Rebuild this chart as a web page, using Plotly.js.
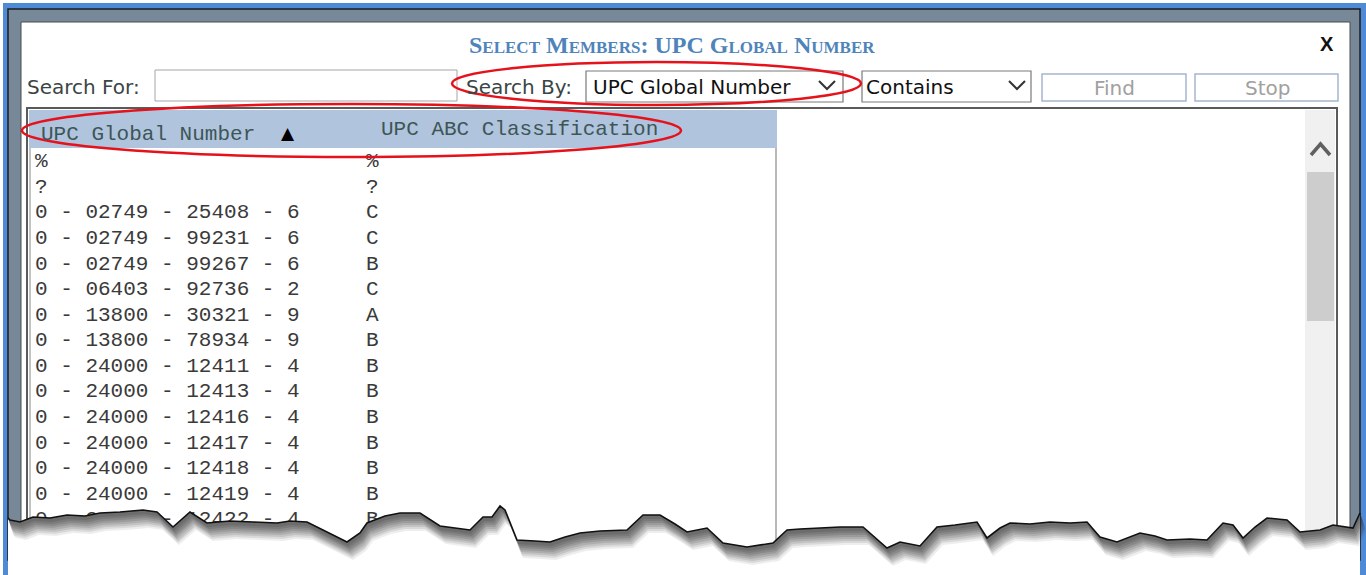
<!DOCTYPE html>
<html>
<head>
<meta charset="utf-8">
<script src="https://cdn.plot.ly/plotly-3.0.1.min.js"></script>
<style>html,body{margin:0;padding:0;background:#fff;overflow:hidden}</style>
</head>
<body>
<div id="chart" style="width:1366px;height:575px"></div>
<script>
// ---- data ----
const dialogTitle = "Select Members: UPC Global Number";
const searchLabels = ["Search For:", "Search By:"];
const searchByValue = "UPC Global Number";
const matchValue = "Contains";
const buttonLabels = ["Find", "Stop"];
const columnTitles = ["UPC Global Number", "UPC ABC Classification"];
const upcNumbers = [
  "%", "?",
  "0 - 02749 - 25408 - 6",
  "0 - 02749 - 99231 - 6",
  "0 - 02749 - 99267 - 6",
  "0 - 06403 - 92736 - 2",
  "0 - 13800 - 30321 - 9",
  "0 - 13800 - 78934 - 9",
  "0 - 24000 - 12411 - 4",
  "0 - 24000 - 12413 - 4",
  "0 - 24000 - 12416 - 4",
  "0 - 24000 - 12417 - 4",
  "0 - 24000 - 12418 - 4",
  "0 - 24000 - 12419 - 4",
  "0 - 24000 - 12422 - 4"
];
const abcClasses = ["%", "?", "C", "C", "B", "C", "A", "B", "B", "B", "B", "B", "B", "B", "B"];

// torn-edge outline (decoration)
const tearX = [8,10,20,33,50,67,85,100,120,143,157,173,190,207,230,253,277,290,307,333,347,360,367,385,400,420,440,455,470,483,492,500,505,517,535,550,565,580,600,627,643,660,675,687,707,723,747,773,787,800,820,840,863,887,900,920,937,955,977,987,1000,1010,1030,1050,1070,1087,1100,1117,1140,1155,1167,1190,1207,1223,1233,1243,1255,1267,1287,1300,1320,1333,1353,1360];
const tearY = [518,520,522,517,518,515,516,513,512,510,512,527,512,523,521,522,523,521,522,535,542,533,523,516,513,513,526,528,530,517,517,506,510,540,541,542,537,533,531,530,515,515,524,532,528,543,547,543,530,529,528,527,527,548,542,546,527,525,522,538,528,523,524,522,523,522,537,542,533,536,540,539,540,523,525,538,527,518,520,532,530,525,528,513];

// ---- helpers ----
function rect(x0, y0, x1, y1, fill, lineColor, lw, layer) {
  return {type: 'rect', xref: 'x', yref: 'y', x0, y0, x1, y1,
    fillcolor: fill, line: {color: lineColor || 'rgba(0,0,0,0)', width: lw || 0}, layer: layer || 'below'};
}
function pathShape(d, fill, lineColor, lw, layer, opacity) {
  return {type: 'path', xref: 'x', yref: 'y', path: d, fillcolor: fill || 'rgba(0,0,0,0)',
    line: {color: lineColor || 'rgba(0,0,0,0)', width: lw || 0}, layer: layer || 'below', opacity: opacity == null ? 1 : opacity};
}
function pts(xs, ys, dx, dy) { return xs.map((x, i) => (x + dx) + ',' + (ys[i] + dy)); }

const shapes = [];
// window frame
shapes.push(rect(3, 3, 1366, 575, '#4f8ad6'));
shapes.push(rect(8, 9, 1360, 560, '#778899', '#1e1e1e', 1.5));
shapes.push(rect(21, 22, 1350, 575, '#ffffff', '#4a4a4a', 1));
// search row controls
shapes.push(rect(155, 70, 457, 101, '#ffffff', '#a5a5a5', 1));
shapes.push(rect(586, 71, 843, 102, '#ffffff', '#7a7a7a', 1.2));
shapes.push(rect(862, 71, 1031, 102, '#ffffff', '#7a7a7a', 1.2));
shapes.push(rect(1042, 74, 1186, 101, '#ffffff', '#a6b6cb', 1.5));
shapes.push(rect(1195, 74, 1338, 101, '#ffffff', '#a6b6cb', 1.5));
shapes.push(pathShape('M819,81 L827,89 L835,81', null, '#333333', 2));
shapes.push(pathShape('M1009,81 L1017,89 L1025,81', null, '#333333', 2));
// list panel
shapes.push(rect(27, 108, 1337, 575, '#ffffff', '#5a5a5a', 2));
shapes.push(rect(29, 110, 777, 148, '#b0c4de'));
shapes.push(pathShape('M30,148 L30,575', null, '#8a8a8a', 1));
shapes.push(pathShape('M776,148 L776,575', null, '#a0a0a0', 1.5));
shapes.push(rect(1305, 110, 1335, 575, '#f0f0f0'));
shapes.push(rect(1307, 172, 1334, 321, '#cdcdcd'));
shapes.push(pathShape('M1311,155 L1320.5,144 L1330,155', null, '#606060', 3.5));
// red highlight ellipses
shapes.push({type: 'circle', xref: 'x', yref: 'y', x0: 452, y0: 62, x1: 861, y1: 105,
  line: {color: '#e5121b', width: 2.5}, layer: 'above'});
shapes.push({type: 'circle', xref: 'x', yref: 'y', x0: 22, y0: 104, x1: 681, y1: 157,
  line: {color: '#e5121b', width: 2.5}, layer: 'above'});
// torn edge: white cover, soft shadow, outline
const linePts = pts(tearX, tearY, 0, 0);
shapes.push(pathShape('M8,575 L' + linePts.join(' L') + ' L1360,575 Z', '#ffffff', null, 0, 'above'));
[[18, 0.08], [16, 0.1], [14, 0.12], [12, 0.13], [10, 0.14], [8, 0.15], [6, 0.16], [4, 0.16]].forEach(([k, op]) => {
  const shifted = pts(tearX, tearY, Math.round(k / 3), k);
  const back = linePts.slice().reverse();
  shapes.push(pathShape('M' + shifted.join(' L') + ' L' + back.join(' L') + ' Z', '#2a2a2a', null, 0, 'above', op));
});
shapes.push(pathShape('M' + linePts.join(' L'), null, '#111111', 1.6, 'above'));

// ---- annotations (UI text) ----
const uiFont = 'DejaVu Sans, Verdana, sans-serif';
const monoFont = 'Courier New, Liberation Mono, monospace';
function label(text, x, y, opts) {
  return Object.assign({text, x, y, xref: 'x', yref: 'y', showarrow: false,
    xanchor: 'left', yanchor: 'middle', borderpad: 0,
    font: {family: uiFont, size: 20, color: '#3a4545'}}, opts || {});
}
const annotations = [
  label(dialogTitle, 672, 45, {xanchor: 'center',
    font: {family: 'Liberation Serif, Times New Roman, serif', size: 24, color: '#4f84ba', weight: 700, variant: 'small-caps'}}),
  label('X', 1327, 44, {xanchor: 'center', font: {family: 'Liberation Sans, Arial, sans-serif', size: 20, color: '#111111', weight: 700}}),
  label(searchLabels[0], 26, 87),
  label(searchLabels[1], 465, 87),
  label(searchByValue, 592, 87, {font: {family: uiFont, size: 20, color: '#111111'}}),
  label(matchValue, 865, 87, {font: {family: uiFont, size: 20, color: '#111111'}}),
  label(buttonLabels[0], 1114, 88, {xanchor: 'center', font: {family: uiFont, size: 20, color: '#a0a0a0'}}),
  label(buttonLabels[1], 1267, 88, {xanchor: 'center', font: {family: uiFont, size: 20, color: '#a0a0a0'}}),
  label(columnTitles[0], 40, 134, {font: {family: monoFont, size: 21, color: '#3d5656'}}),
  label('\u25B2', 288, 133, {xanchor: 'center', font: {family: 'DejaVu Sans', size: 17, color: '#000000'}}),
  label(columnTitles[1], 380, 129, {font: {family: monoFont, size: 21, color: '#3d5656'}})
];

// ---- list rows through their own axes ----
const rowIdx = upcNumbers.map((_, i) => i);
const traces = [
  {type: 'scatter', mode: 'text', x: upcNumbers.map(() => 0), y: rowIdx, text: upcNumbers,
    textposition: 'middle right', xaxis: 'x2', yaxis: 'y2', hoverinfo: 'skip',
    textfont: {family: monoFont, size: 21, color: '#3a3a3a'}},
  {type: 'scatter', mode: 'text', x: abcClasses.map(() => 1), y: rowIdx, text: abcClasses,
    textposition: 'middle right', xaxis: 'x2', yaxis: 'y2', hoverinfo: 'skip',
    textfont: {family: monoFont, size: 21, color: '#3a3a3a'}}
];

const layout = {
  width: 1366, height: 575, margin: {l: 0, r: 0, t: 0, b: 0, pad: 0},
  paper_bgcolor: '#ffffff', plot_bgcolor: 'rgba(0,0,0,0)', showlegend: false,
  xaxis: {domain: [0, 1], range: [0, 1366], visible: false, fixedrange: true},
  yaxis: {domain: [0, 1], range: [575, 0], visible: false, fixedrange: true},
  xaxis2: {domain: [29 / 1366, 777 / 1366], range: [-0.01813, 2.2417], visible: false, anchor: 'y2', fixedrange: true},
  yaxis2: {domain: [0, 427 / 575], range: [16.15, -0.55], visible: false, anchor: 'x2', fixedrange: true},
  shapes, annotations
};
Plotly.newPlot('chart', traces, layout, {displayModeBar: false, staticPlot: true});
</script>
</body>
</html>
